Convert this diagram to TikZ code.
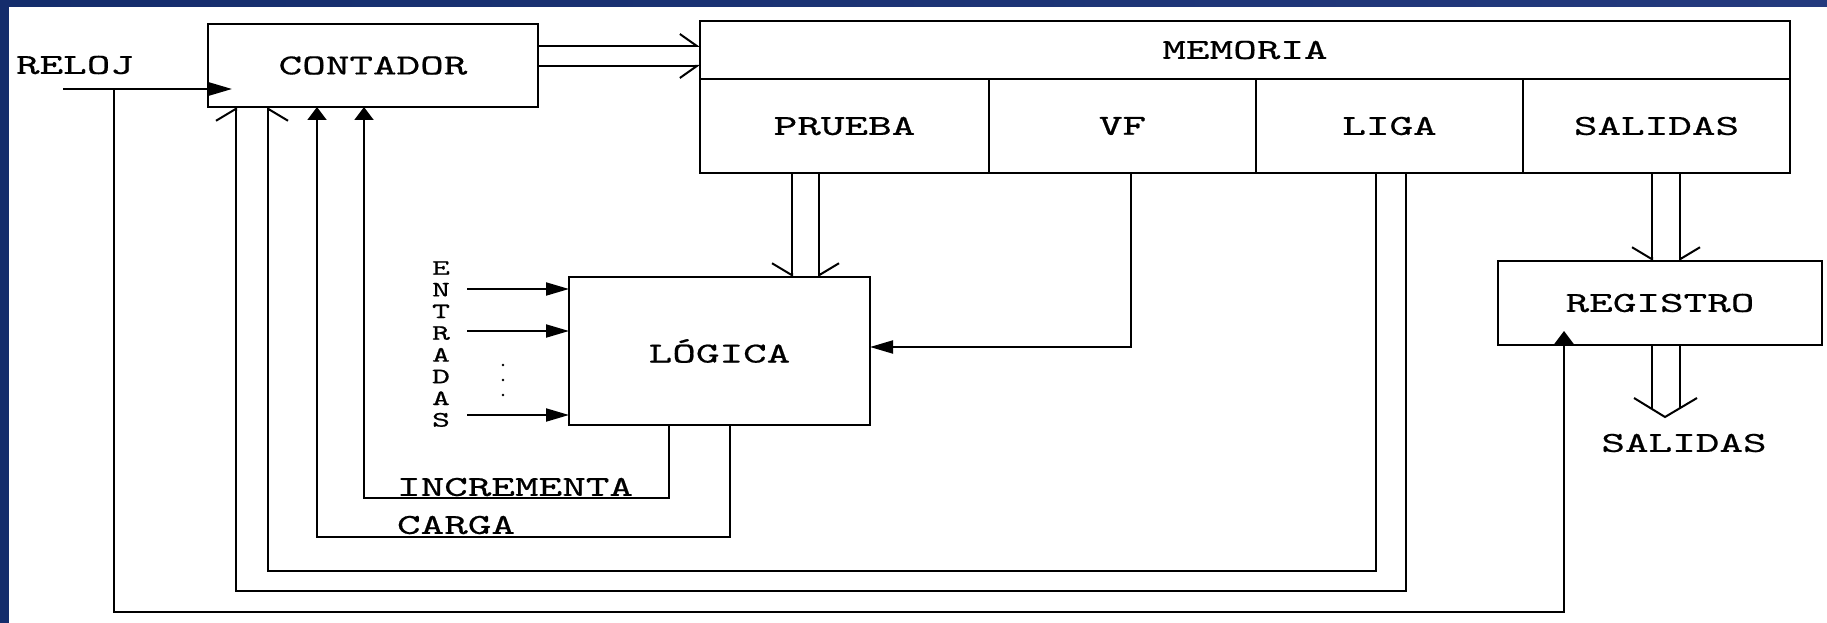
\documentclass[tikz,border=0pt]{standalone}
\usepackage{fontspec}
\usepackage{xcolor}
\usepackage{tikz}
\usetikzlibrary{positioning, arrows.meta, calc}
\newfontfamily\diafont[FakeStretch=1.55, FakeBold=0.6]{lmmono10-regular.otf}
\definecolor{slidenavy}{RGB}{20,45,108}
\definecolor{slidelight}{RGB}{88,122,196}
\definecolor{slideend}{RGB}{36,58,126}

\begin{document}
\begin{tikzpicture}[x=1pt, y=-1pt, line width=2pt,
    box/.style={draw, outer sep=0pt, inner sep=0pt, font=\diafont\fontsize{29}{34}\selectfont},
    txt/.style={inner sep=0pt, font=\diafont\fontsize{29}{34}\selectfont},
    letra/.style={inner sep=0pt, font=\diafont\fontsize{22}{22}\selectfont},
    harr/.style={-{Triangle[length=23pt, width=13pt]}},
    varr/.style={-{Triangle[length=13pt, width=19pt]}},
    hbus/.style={-{Straight Barb[harpoon, length=17pt, width=24pt]}},
    hbusr/.style={-{Straight Barb[harpoon, swap, length=17pt, width=24pt]}},
    vbus/.style={-{Straight Barb[harpoon, length=12pt, width=40pt]}},
    vbusr/.style={-{Straight Barb[harpoon, swap, length=12pt, width=40pt]}}]
    % 控制器框图
    \fill[white] (0,0) rectangle (1827,623);
    \shade[left color=slidenavy, middle color=slidelight, right color=slideend] (0,0) rectangle (1827,7);
    \fill[slidenavy] (0,0) rectangle (9,623);
    \useasboundingbox (0,0) rectangle (1827,623);

    \node[box, minimum width=330pt, minimum height=83pt] (contador) at (373,65.5) {CONTADOR};
    \node[box, minimum width=1090pt, minimum height=58pt] (memoria) at (1245,50) {MEMORIA};
    \node[box, minimum width=289pt, minimum height=94pt, below right=0pt and 0pt of memoria.south west] (prueba) {PRUEBA};
    \node[box, minimum width=267pt, minimum height=94pt, right=0pt of prueba] (vf) {VF};
    \node[box, minimum width=267pt, minimum height=94pt, right=0pt of vf] (liga) {LIGA};
    \node[box, minimum width=267pt, minimum height=94pt, right=0pt of liga] (salcel) {SALIDAS};
    \node[box, minimum width=301pt, minimum height=148pt] (logica) at (719.5,351) {LÓGICA};
    \node[box, minimum width=324pt, minimum height=84pt] (registro) at (1660,303) {REGISTRO};

    \node[txt] (reloj) at (75,65) {RELOJ};
    \node[txt, anchor=west] (incr) at (396,487) {INCREMENTA};
    \node[txt, anchor=west] (carga) at (396,525) {CARGA};
    \node[txt] (salidas) at (1684,443) {SALIDAS};

    \foreach \l [count=\i] in {E,N,T,R,A,D,A,S}
        \node[letra] (ent\i) at (441,{268+21.7*(\i-1)}) {\l};
    \foreach \y [count=\i] in {289,331,415} {
        \coordinate (in\i) at (467,\y);
        \draw[harr] (in\i) -- (in\i -| logica.west);
    }
    \foreach \y in {365,380,395}
        \fill (503,\y) circle (1.4pt);

    \coordinate (relojin) at (63,89);
    \coordinate (relojbr) at (114,89);
    \draw[harr] (relojin) -- ($(contador.west |- relojin)+(24,0)$);
    \draw[varr] (relojbr) -- ++(0,523) -| ($(registro.south west)+(66,-14)$);

    \draw[hbus] ($(contador.north east)+(0,22)$) -- ($(memoria.north west)+(0,25)$);
    \draw[hbusr] ($(contador.north east)+(0,42)$) -- ($(memoria.north west)+(0,45)$);

    \draw[vbusr] ($(prueba.south west)+(92,0)$) -- ($(logica.north west)+(223,0)$);
    \draw[vbus] ($(prueba.south west)+(119,0)$) -- ($(logica.north west)+(250,0)$);
    \draw[harr] ($(vf.south)+(8,0)$) |- ($(logica.east)+(0,-4)$);

    \draw[vbusr] ($(salcel.south west)+(129,0)$) -- ($(registro.north west)+(154,0)$);
    \draw[vbus] ($(salcel.south west)+(157,0)$) -- ($(registro.north west)+(182,0)$);

    \coordinate (saltip) at ($(registro.south west)+(167,72)$);
    \draw ($(registro.south west)+(154,0)$) -- ++(0,64);
    \draw ($(registro.south west)+(182,0)$) -- ++(0,63);
    \draw ($(saltip)+(-31,-19)$) -- (saltip) -- ++(32,-19);

    \draw[varr] ($(logica.south west)+(100,0)$) -- ++(0,73) -| ($(contador.south west)+(156,0)$);
    \draw[varr] ($(logica.south west)+(161,0)$) -- ++(0,112) -| ($(contador.south west)+(109,0)$);
    \draw[vbusr] ($(liga.south west)+(120,0)$) -- ++(0,398) -| ($(contador.south west)+(60,0)$);
    \draw[vbus] ($(liga.south west)+(150,0)$) -- ++(0,418) -| ($(contador.south west)+(28,0)$);
\end{tikzpicture}
\end{document}
